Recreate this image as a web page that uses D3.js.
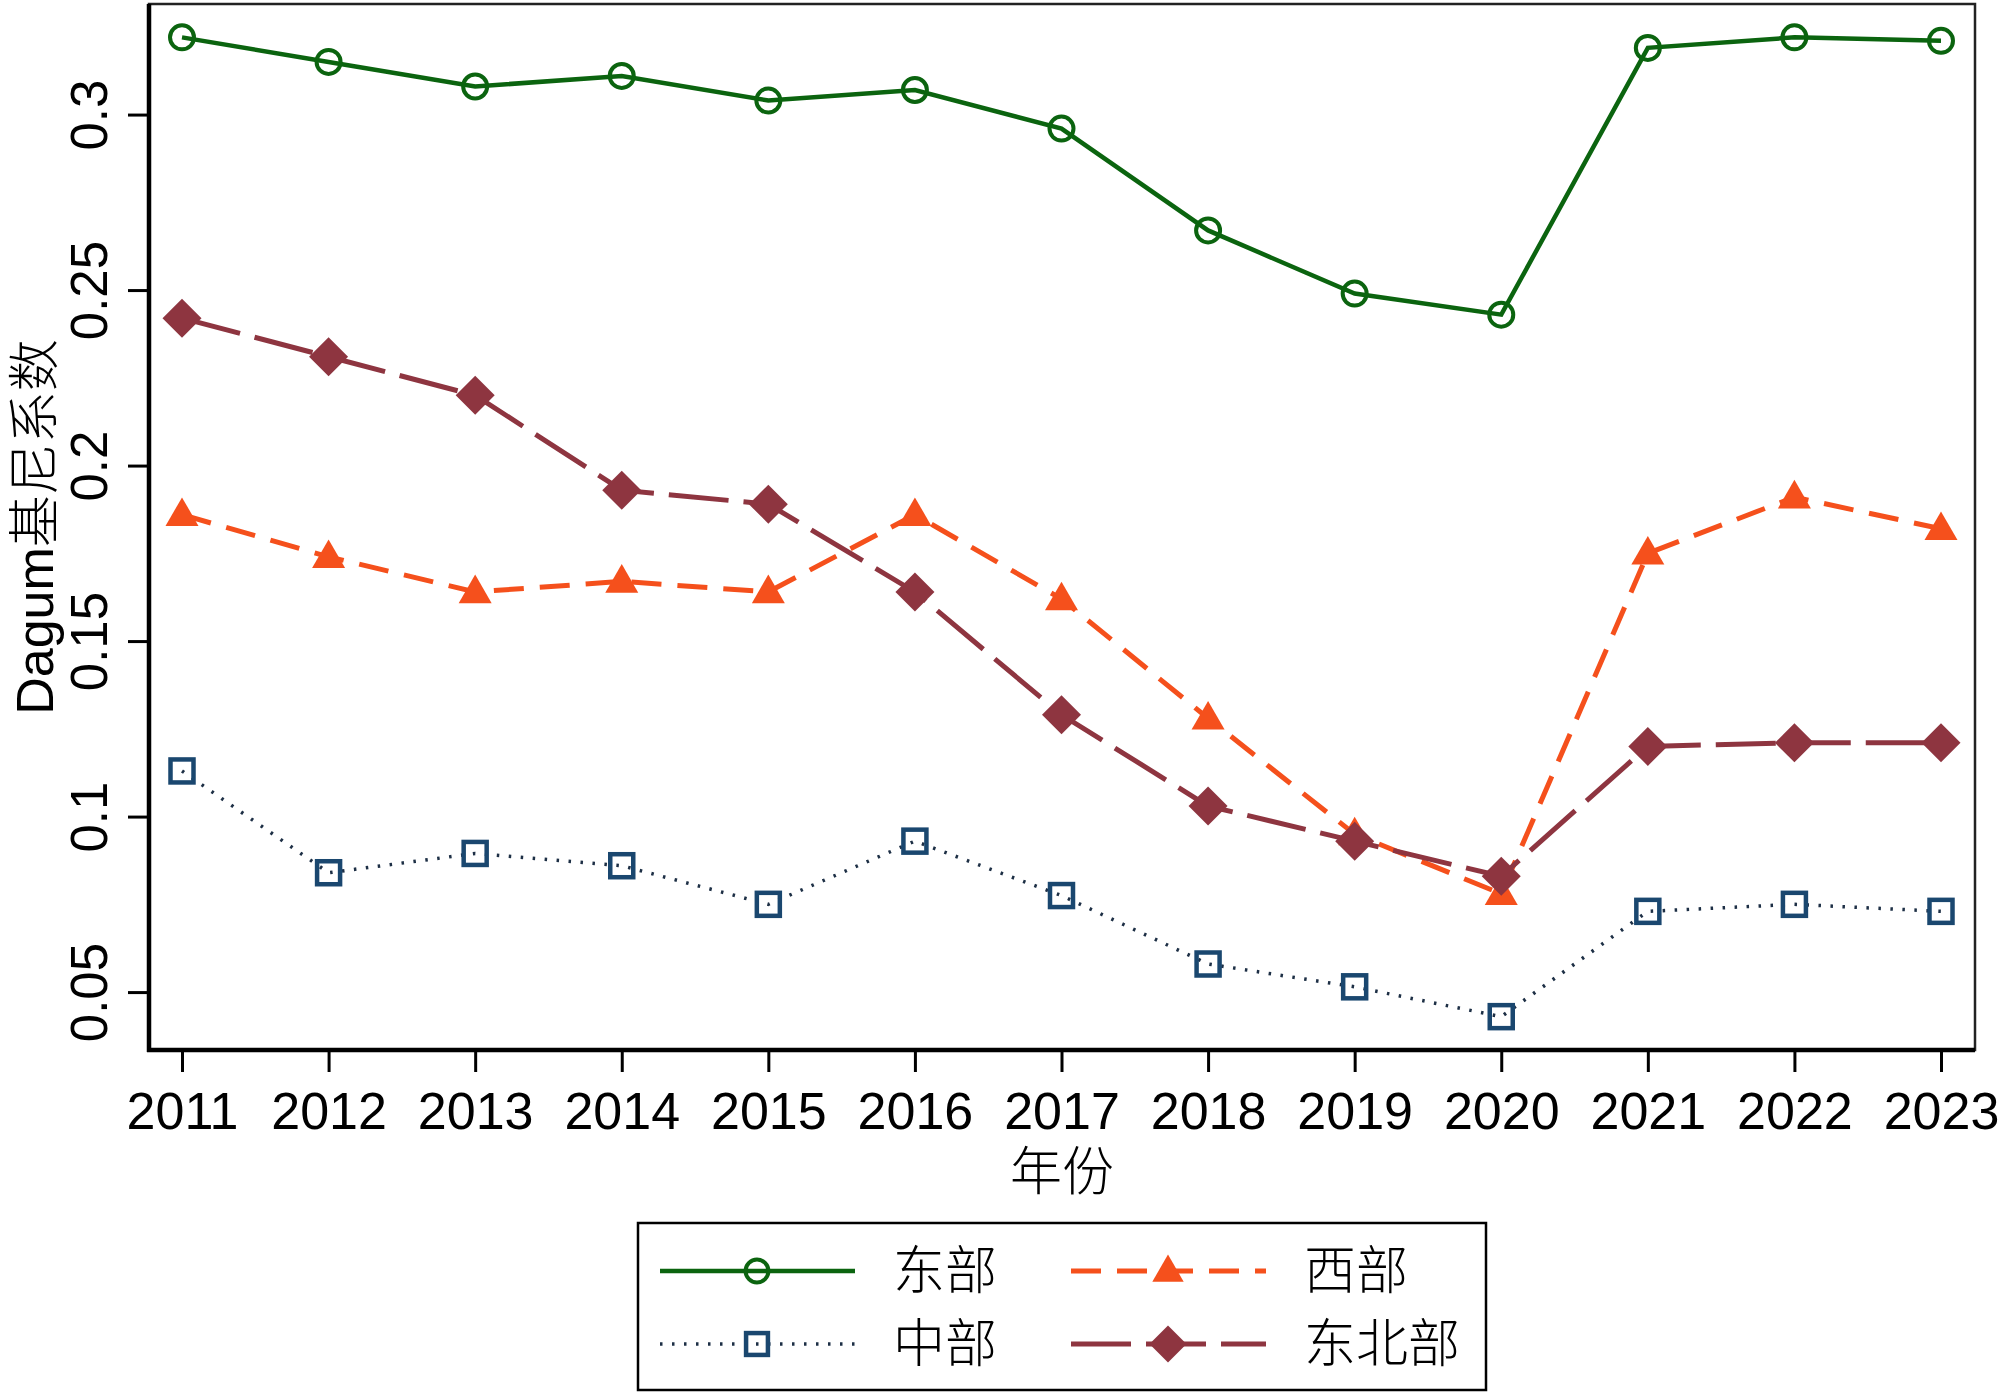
<!DOCTYPE html>
<html>
<head>
<meta charset="utf-8">
<script src="https://cdn.jsdelivr.net/npm/d3@7"></script>
<style>
  body { margin: 0; background: #fff; }
  svg { display: block; }
</style>
</head>
<body>
<div class="canvas"></div>
<script>
// data
const years = [2011, 2012, 2013, 2014, 2015, 2016, 2017, 2018, 2019, 2020, 2021, 2022, 2023];
const yTicks = [0.05, 0.1, 0.15, 0.2, 0.25, 0.3];
const yTickLabels = ['0.05', '0.1', '0.15', '0.2', '0.25', '0.3'];

const east = [0.322, 0.315, 0.308, 0.311, 0.304, 0.307, 0.296, 0.267, 0.249, 0.243, 0.319, 0.322, 0.321];
const west = [0.186, 0.174, 0.164, 0.167, 0.164, 0.186, 0.162, 0.128, 0.095, 0.078, 0.175, 0.191, 0.182];
const central = [0.113, 0.084, 0.0895, 0.086, 0.075, 0.093, 0.0775, 0.058, 0.0515, 0.043, 0.073, 0.075, 0.073];
const northeast = [0.242, 0.231, 0.220, 0.193, 0.189, 0.164, 0.129, 0.103, 0.093, 0.083, 0.120, 0.121, 0.121];

const seriesNames = ['东部', '西部', '中部', '东北部'];

const dims = {
  width: 2000,
  height: 1395,
  left: 149,
  right: 1975,
  top: 4,
  bottom: 1050,
  fontFamily: '"Liberation Sans", Arial, sans-serif',
  cjkFamily: '"Noto Sans CJK SC", sans-serif'
};

const series = [
  { name: seriesNames[0], values: east, color: '#0b640f', dash: null, width: 4.5, marker: 'circle' },
  { name: seriesNames[1], values: west, color: '#f5501c', dash: '30,16', width: 5, marker: 'triangle' },
  { name: seriesNames[2], values: central, color: '#1a476f', dash: '2.5,9.5', width: 3.5, marker: 'square', lineColor: '#1d2f45' },
  { name: seriesNames[3], values: northeast, color: '#8e3540', dash: '60,15', width: 5, marker: 'diamond' }
];

const svg = d3.select('.canvas')
  .append('svg')
  .attr('width', dims.width)
  .attr('height', dims.height);

// scales
const x = d3.scaleLinear().domain([2011, 2023]).range([182, 1941]);
const y = d3.scaleLinear().domain([0.0335, 0.3315]).range([dims.bottom, dims.top]);

// frame
svg.append('rect')
  .attr('x', dims.left)
  .attr('y', dims.top)
  .attr('width', dims.right - dims.left)
  .attr('height', dims.bottom - dims.top)
  .attr('fill', 'none')
  .attr('stroke', '#222')
  .attr('stroke-width', 2.5);

// axes
const yAxis = d3.axisLeft(y)
  .tickValues(yTicks)
  .tickSize(21)
  .tickPadding(0)
  .tickFormat((d, i) => yTickLabels[i]);

const yAxisGroup = svg.append('g')
  .attr('transform', `translate(${dims.left}, 0)`)
  .call(yAxis);

yAxisGroup.select('path.domain')
  .attr('d', `M0,${dims.top}V${dims.bottom + 2}`)
  .attr('stroke', '#000')
  .attr('stroke-width', 4.5);
yAxisGroup.selectAll('.tick line').attr('stroke', '#000').attr('stroke-width', 3);
yAxisGroup.selectAll('.tick text')
  .attr('transform', 'rotate(-90)')
  .attr('x', 0)
  .attr('y', -42)
  .attr('dy', 0)
  .attr('text-anchor', 'middle')
  .attr('fill', '#000')
  .attr('font-family', dims.fontFamily)
  .attr('font-size', 51);

const xAxis = d3.axisBottom(x)
  .tickValues(years)
  .tickSize(22)
  .tickPadding(20)
  .tickFormat(d3.format('d'));

const xAxisGroup = svg.append('g')
  .attr('transform', `translate(0, ${dims.bottom})`)
  .call(xAxis);

xAxisGroup.select('path.domain')
  .attr('d', `M${dims.left - 2},0H${dims.right}`)
  .attr('stroke', '#000')
  .attr('stroke-width', 4.5);
xAxisGroup.selectAll('.tick line').attr('stroke', '#000').attr('stroke-width', 3);
xAxisGroup.selectAll('.tick text')
  .attr('fill', '#000')
  .attr('font-family', dims.fontFamily)
  .attr('font-size', 52);

// axis titles
svg.append('text')
  .attr('transform', `translate(53, ${(dims.top + dims.bottom) / 2}) rotate(-90)`)
  .attr('text-anchor', 'middle')
  .attr('font-size', 52)
  .attr('fill', '#000')
  .call((t) => {
    t.append('tspan').attr('font-family', dims.fontFamily).text('Dagum');
    t.append('tspan').attr('font-family', dims.cjkFamily).attr('font-weight', 300).text('基尼系数');
  });

svg.append('text')
  .attr('x', (dims.left + dims.right) / 2)
  .attr('y', 1190)
  .attr('text-anchor', 'middle')
  .attr('font-family', dims.cjkFamily)
  .attr('font-weight', 300)
  .attr('font-size', 52)
  .attr('fill', '#000')
  .text('年份');

// markers
const drawMarker = (g, s, cx, cy, scale) => {
  const k = scale || 1;
  if (s.marker === 'circle') {
    g.append('circle')
      .attr('cx', cx).attr('cy', cy).attr('r', 12 * k)
      .attr('fill', 'none').attr('stroke', s.color).attr('stroke-width', 4);
  } else if (s.marker === 'square') {
    const h = 11.5 * k;
    g.append('rect')
      .attr('x', cx - h).attr('y', cy - h).attr('width', h * 2).attr('height', h * 2)
      .attr('fill', 'none').attr('stroke', s.color).attr('stroke-width', 4.5);
  } else if (s.marker === 'triangle') {
    const h = 16.5 * k;
    g.append('path')
      .attr('d', `M${cx},${cy - h * 1.05}L${cx + h},${cy + h * 0.68}L${cx - h},${cy + h * 0.68}Z`)
      .attr('fill', s.color);
  } else if (s.marker === 'diamond') {
    const h = 19.5 * k;
    g.append('path')
      .attr('d', `M${cx},${cy - h}L${cx + h},${cy}L${cx},${cy + h}L${cx - h},${cy}Z`)
      .attr('fill', s.color);
  }
};

const line = d3.line()
  .x((d) => x(d.year))
  .y((d) => y(d.value));

const plot = svg.append('g');

series.forEach((s) => {
  const data = years.map((yr, i) => ({ year: yr, value: s.values[i] }));
  plot.append('path')
    .datum(data)
    .attr('d', line)
    .attr('fill', 'none')
    .attr('stroke', s.lineColor || s.color)
    .attr('stroke-width', s.width)
    .attr('stroke-dasharray', s.dash);
  const g = plot.append('g');
  data.forEach((d) => drawMarker(g, s, x(d.year), y(d.value)));
});

// legend
const legend = svg.append('g');
legend.append('rect')
  .attr('x', 638)
  .attr('y', 1223)
  .attr('width', 848)
  .attr('height', 167)
  .attr('fill', '#fff')
  .attr('stroke', '#000')
  .attr('stroke-width', 2.5);

const legendPos = [
  { x: 660, y: 1271, tx: 893 },
  { x: 1071, y: 1271, tx: 1304 },
  { x: 660, y: 1344, tx: 893 },
  { x: 1071, y: 1344, tx: 1304 }
];

series.forEach((s, i) => {
  const p = legendPos[i];
  legend.append('line')
    .attr('x1', p.x).attr('x2', p.x + 195)
    .attr('y1', p.y).attr('y2', p.y)
    .attr('stroke', s.lineColor || s.color)
    .attr('stroke-width', s.width)
    .attr('stroke-dasharray', s.dash);
  drawMarker(legend, s, p.x + 97, p.y, 0.95);
  legend.append('text')
    .attr('x', p.tx)
    .attr('y', p.y + 18)
    .attr('font-family', dims.cjkFamily)
    .attr('font-weight', 300)
    .attr('font-size', 52)
    .attr('fill', '#000')
    .text(s.name);
});
</script>
</body>
</html>
